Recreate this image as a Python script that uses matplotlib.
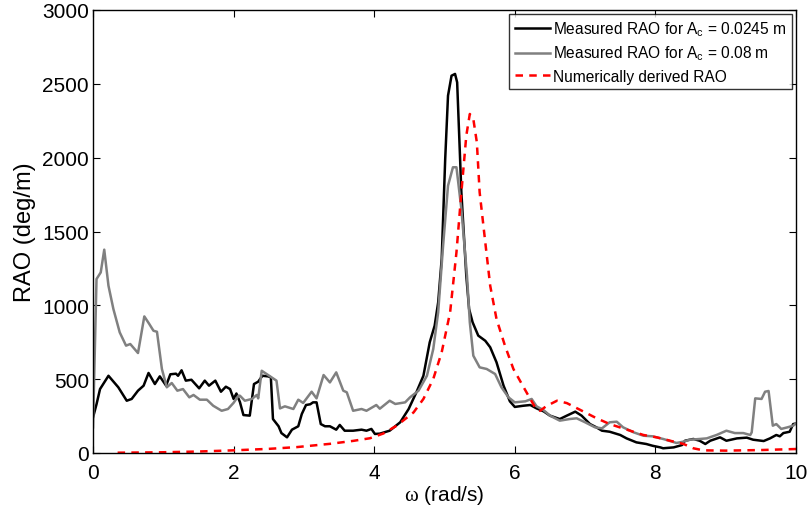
import matplotlib
matplotlib.use("Agg")
import matplotlib.pyplot as plt

plt.rcParams['font.family'] = ['Liberation Sans', 'DejaVu Sans']
plt.rcParams['mathtext.fontset'] = 'custom'
plt.rcParams['mathtext.rm'] = 'Liberation Sans'
plt.rcParams['mathtext.it'] = 'Liberation Serif'
plt.rcParams['mathtext.sf'] = 'Liberation Sans'

# Measured RAO, Ac = 0.0245 m
x_small = [0.00, 0.05, 0.10, 0.22, 0.36, 0.48, 0.55, 0.64, 0.72, 0.79, 0.88, 0.95, 1.04, 1.10, 1.18,
           1.21, 1.26, 1.32, 1.40, 1.51, 1.59, 1.65, 1.74, 1.82, 1.89, 1.95, 2.00, 2.04, 2.09, 2.14,
           2.23, 2.29, 2.35, 2.41, 2.49, 2.53, 2.56, 2.64, 2.68, 2.76, 2.83, 2.92, 2.97, 3.03, 3.09,
           3.13, 3.18, 3.24, 3.30, 3.37, 3.46, 3.51, 3.58, 3.70, 3.82, 3.89, 3.96, 4.01, 4.08, 4.22,
           4.37, 4.49, 4.60, 4.70, 4.79, 4.86, 4.91, 4.96, 5.01, 5.05, 5.10, 5.15, 5.18, 5.24, 5.31,
           5.35, 5.40, 5.48, 5.58, 5.65, 5.74, 5.84, 5.93, 6.00, 6.12, 6.22, 6.31, 6.41, 6.50, 6.64,
           6.74, 6.86, 6.95, 7.07, 7.16, 7.24, 7.35, 7.50, 7.59, 7.73, 7.87, 7.96, 8.07, 8.11, 8.26,
           8.38, 8.42, 8.54, 8.63, 8.71, 8.78, 8.92, 9.01, 9.16, 9.30, 9.39, 9.54, 9.63, 9.72, 9.77,
           9.82, 9.91, 9.96, 10.00]
rao_small = [240, 330, 433, 523, 445, 354, 366, 422, 456, 542, 467, 519, 456, 533, 537,
             523, 560, 490, 496, 438, 490, 456, 490, 415, 449, 433, 366, 403, 345, 257,
             253, 467, 483, 523, 519, 513, 230, 181, 135, 106, 158, 181, 264, 325, 330,
             343, 343, 196, 181, 181, 158, 190, 151, 151, 158, 151, 163, 129, 131, 151,
             208, 298, 411, 523, 750, 862, 1020, 1314, 1991, 2420, 2555, 2567, 2510, 1765, 1200,
             975, 885, 795, 760, 716, 614, 456, 350, 312, 320, 325, 302, 282, 253, 230,
             253, 280, 253, 196, 174, 151, 144, 122, 99, 72, 61, 49, 38, 32, 38,
             54, 83, 95, 83, 61, 83, 106, 83, 99, 104, 90, 81, 99, 122, 113,
             135, 144, 196, 200]

# Measured RAO, Ac = 0.08 m
x_large = [0.00, 0.05, 0.11, 0.16, 0.22, 0.29, 0.38, 0.47, 0.53, 0.57, 0.64, 0.73, 0.80, 0.86, 0.91,
           0.98, 1.05, 1.12, 1.20, 1.28, 1.37, 1.43, 1.52, 1.62, 1.71, 1.83, 1.92, 2.00, 2.07, 2.09,
           2.16, 2.26, 2.33, 2.35, 2.40, 2.61, 2.66, 2.73, 2.85, 2.92, 2.99, 3.11, 3.18, 3.28, 3.37,
           3.46, 3.56, 3.61, 3.70, 3.82, 3.89, 4.03, 4.08, 4.22, 4.30, 4.44, 4.51, 4.63, 4.75, 4.84,
           4.91, 4.98, 5.05, 5.12, 5.17, 5.24, 5.32, 5.36, 5.41, 5.50, 5.60, 5.72, 5.81, 5.91, 6.00,
           6.15, 6.24, 6.31, 6.41, 6.50, 6.64, 6.78, 6.88, 7.00, 7.14, 7.24, 7.35, 7.45, 7.54, 7.69,
           7.83, 7.96, 8.11, 8.30, 8.40, 8.49, 8.63, 8.73, 8.87, 9.01, 9.13, 9.25, 9.35, 9.37, 9.42,
           9.51, 9.56, 9.61, 9.67, 9.72, 9.79, 9.88, 9.96, 10.00]
rao_large = [174, 1178, 1223, 1377, 1133, 975, 817, 727, 738, 716, 677, 925, 874, 828, 821,
             569, 445, 474, 422, 433, 377, 393, 361, 361, 320, 286, 298, 340, 388, 388,
             354, 366, 393, 370, 557, 490, 302, 316, 298, 361, 339, 415, 370, 528, 478,
             546, 422, 411, 286, 298, 286, 325, 300, 354, 332, 343, 377, 422, 523, 704,
             953, 1404, 1810, 1935, 1935, 1652, 1200, 885, 659, 580, 569, 535, 445, 377, 343,
             350, 366, 316, 290, 253, 219, 230, 235, 208, 174, 167, 208, 212, 174, 140,
             117, 113, 95, 68, 77, 90, 95, 99, 122, 151, 135, 135, 122, 140, 370,
             366, 415, 420, 185, 196, 163, 174, 185, 200]

# Numerically derived RAO
x_num = [0.35, 1.0, 1.5, 2.0, 2.5, 2.9, 3.37, 3.7, 3.94, 4.13, 4.32, 4.56, 4.70, 4.84, 4.96,
         5.08, 5.17, 5.24, 5.31, 5.36, 5.41, 5.46, 5.50, 5.58, 5.65, 5.74, 5.86, 5.98, 6.12, 6.22,
         6.30, 6.36, 6.45, 6.60, 6.74, 6.93, 7.16, 7.35, 7.64, 7.83, 8.02, 8.21, 8.40, 8.54, 8.68,
         9.0, 9.5, 10.0]
rao_num = [2, 5, 10, 18, 28, 40, 62, 82, 100, 132, 185, 275, 366, 501, 682,
           953, 1359, 1765, 2149, 2296, 2262, 2104, 1765, 1427, 1133, 907, 727, 569, 450, 366,
           300, 286, 318, 354, 338, 292, 236, 196, 151, 122, 106, 83, 61, 32, 18,
           16, 20, 27]

labels = ['Measured RAO for A$_{\\mathrm{c}}$ = 0.0245 m',
          'Measured RAO for A$_{\\mathrm{c}}$ = 0.08 m',
          'Numerically derived RAO']

fig = plt.figure(figsize=(8.11, 5.10), dpi=100)
ax = fig.add_axes([93/811, 56/510, 703/811, 443/510])

ax.plot(x_small, rao_small, color='black', lw=1.8, label=labels[0])
ax.plot(x_large, rao_large, color='#808080', lw=1.8, label=labels[1])
ax.plot(x_num, rao_num, color='red', lw=1.8, ls=(0, (3, 2.5)), label=labels[2])

ax.set_xlim(0, 10)
ax.set_ylim(0, 3000)
ax.set_xticks([0, 2, 4, 6, 8, 10])
ax.set_yticks([0, 500, 1000, 1500, 2000, 2500, 3000])
ax.tick_params(direction='in', top=True, right=True, labelsize=15, length=5, width=0.8)
ax.tick_params(axis='x', pad=7)
ax.tick_params(axis='y', pad=3)
ax.set_xlabel('$\\omega$ (rad/s)', fontsize=15, labelpad=1)
ax.set_ylabel('RAO (deg/m)', fontsize=17, labelpad=4)
for s in ax.spines.values():
    s.set_linewidth(1.0)

leg = ax.legend(loc='upper right', fontsize=11.2, frameon=True, fancybox=False,
                edgecolor='black', borderpad=0.35, labelspacing=0.4, handlelength=2.3,
                handletextpad=0.2, borderaxespad=0.25)
leg.get_frame().set_linewidth(1.0)

fig.savefig('out.png', dpi=100)
